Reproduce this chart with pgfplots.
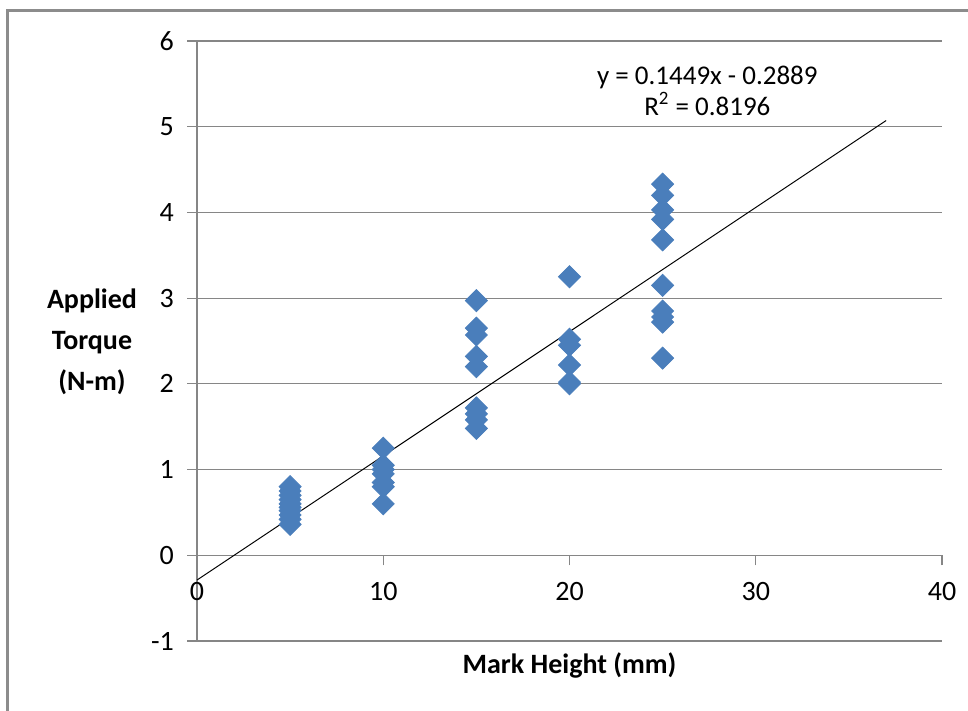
\documentclass[border=0pt]{standalone}
\usepackage{fontspec}
\setmainfont{Carlito}
\usepackage{pgfplots}
\pgfplotsset{compat=1.18}
\definecolor{grd}{HTML}{868686}
\definecolor{frm}{HTML}{8C8C8C}
\definecolor{ser}{HTML}{4A7EBB}
\begin{document}
\begin{tikzpicture}
\useasboundingbox (0,0) rectangle (484pt,355.5pt);
% chart frame
\draw[line width=1.5pt, frm] (3.5pt,0) -- (3.5pt,350pt) -- (484pt,350pt);
\begin{axis}[
  at={(98.5pt,35pt)}, anchor=south west,
  scale only axis, width=372.5pt, height=300pt,
  xmin=0, xmax=40, ymin=-1, ymax=6,
  axis x line=middle, axis y line=left,
  axis line style={-, grd, line width=0.6pt},
  every inner x axis line/.append style={-},
  every outer y axis line/.append style={-},
  xtick={0,10,20,30,40}, ytick={-1,0,...,6},
  hide obscured x ticks=false,
  tick align=outside, major tick length=5pt,
  tick style={grd, line width=0.6pt},
  ymajorgrids, major grid style={grd, line width=0.6pt},
  /pgf/number format/assume math mode=true,
  ticklabel style={font=\fontsize{14}{16}\selectfont},
  yticklabel style={xshift=-3pt},
  xticklabel style={yshift=-5pt},
  xlabel={Mark Height (mm)},
  ylabel={Applied\\Torque\\(N-m)},
  every axis x label/.style={at={(rel axis cs:0.5,-0.04)}, anchor=center,
    font=\bfseries\fontsize{14}{17}\selectfont},
  every axis y label/.style={at={(rel axis cs:-0.141,0.498)}, anchor=center,
    align=center, font=\bfseries\fontsize{14}{20.5}\selectfont},
  clip=false,
]
\addplot[black, line width=0.5pt, forget plot] coordinates {(0,-0.2889) (37,5.0724)};
\addplot[only marks, mark=square*, mark size=3.9pt,
  mark options={rotate=45, fill=ser, draw=ser}] coordinates {
  (5,0.36) (5,0.42) (5,0.47) (5,0.52) (5,0.56) (5,0.60) (5,0.65) (5,0.70) (5,0.75) (5,0.80)
  (10,0.60) (10,0.80) (10,0.85) (10,0.95) (10,1.00) (10,1.05) (10,1.25)
  (15,1.48) (15,1.58) (15,1.65) (15,1.72) (15,2.20) (15,2.32) (15,2.57) (15,2.65) (15,2.97)
  (20,2.00) (20,2.02) (20,2.22) (20,2.45) (20,2.52) (20,3.25)
  (25,2.30) (25,2.72) (25,2.78) (25,2.85) (25,3.15) (25,3.68) (25,3.92) (25,4.03) (25,4.20) (25,4.33)
};
\node[align=center, font=\fontsize{13.5}{15.5}\selectfont, anchor=center]
  at (axis cs:27.4,5.42) {y = 0.1449x - 0.2889\\R\textsuperscript{2} = 0.8196};
\end{axis}
\end{tikzpicture}
\end{document}
